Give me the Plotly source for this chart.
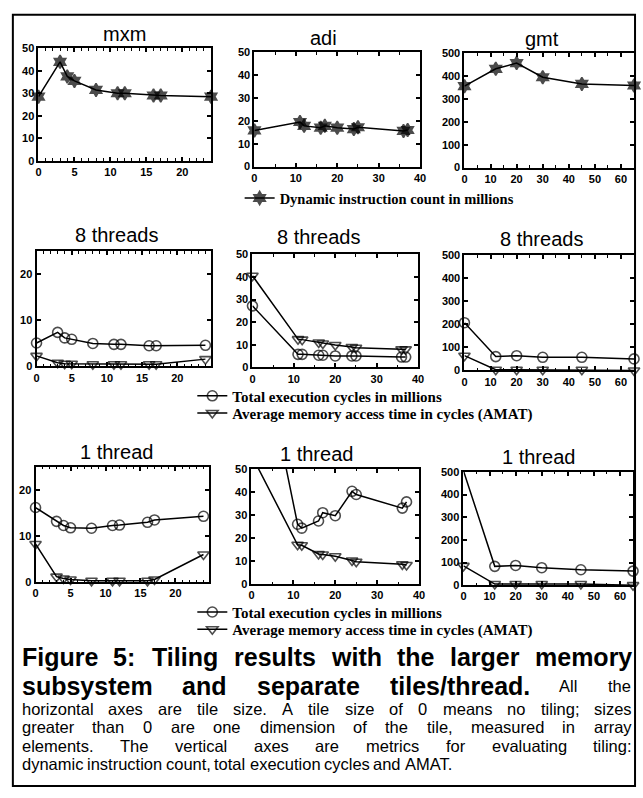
import plotly.graph_objects as go

# ---------------- data ----------------
mxm_tile = [0, 3, 4, 5, 8, 11, 12, 16, 17, 24]
adi_tile = [0, 11, 12, 16, 17, 20, 24, 25, 36, 37]
gmt_tile = [0, 12, 20, 30, 45, 65]

mxm_instr = [28.5, 44, 37.5, 35.5, 31.5, 30, 30, 29, 29, 28.5]
adi_instr = [15.8, 19.5, 17.8, 17.0, 17.8, 17.0, 16.4, 17.2, 15.6, 16.0]
gmt_instr = [356, 432, 457, 395, 366, 359]

mxm_cycles_8 = [5.1, 7.4, 6.2, 5.9, 5.0, 4.8, 4.8, 4.5, 4.5, 4.6]
mxm_amat_8 = [2.3, 0.8, 0.6, 0.6, 0.5, 0.5, 0.5, 0.5, 0.5, 1.6]
adi_cycles_8 = [27.2, 5.8, 5.8, 5.4, 5.4, 5.1, 5.1, 5.1, 4.6, 4.6]
adi_amat_8 = [40.5, 12.5, 12.3, 11.0, 10.6, 9.9, 9.0, 8.7, 8.0, 8.0]
gmt_cycles_8 = [207, 60, 64, 57, 57, 50]
gmt_amat_8 = [64, 3, 3, 3, 3, 0]

mxm_cycles_1 = [16.2, 13.2, 12.3, 11.8, 11.7, 12.3, 12.4, 13.0, 13.5, 14.3]
mxm_amat_1 = [8.3, 1.2, 0.8, 0.6, 0.3, 0.3, 0.3, 0.3, 0.6, 6.0]
adi_cycles_1 = [124, 26.0, 24.3, 27.4, 31.0, 29.7, 40.3, 38.9, 33.0, 35.7]
adi_amat_1 = [56, 17.1, 16.9, 13.1, 12.9, 12.1, 10.3, 9.7, 8.6, 8.3]
gmt_cycles_1 = [505, 83, 87, 77, 68, 62]
gmt_amat_1 = [85, 5, 5, 5, 5, 0]

panel_titles = ["mxm", "adi", "gmt",
                "8 threads", "8 threads", "8 threads",
                "1 thread", "1 thread", "1 thread"]

instr_label = "Dynamic instruction count in millions"
cycles_label = "Total execution cycles in millions"
amat_label = "Average memory access time in cycles (AMAT)"

caption_lines = [
    [("Figure", "B"), ("5:", "B"), ("Tiling", "B"), ("results", "B"), ("with", "B"),
     ("the", "B"), ("larger", "B"), ("memory", "B")],
    [("subsystem", "B"), ("and", "B"), ("separate", "B"), ("tiles/thread.", "B"),
     ("All", "R"), ("the", "R")],
    [(w, "R") for w in "horizontal axes are tile size. A tile size of 0 means no tiling; sizes".split()],
    [(w, "R") for w in "greater than 0 are one dimension of the tile, measured in array".split()],
    [(w, "R") for w in "elements. The vertical axes are metrics for evaluating tiling:".split()],
    [(w, "R") for w in "dynamic instruction count, total execution cycles and AMAT.".split()],
]

# ---------------- layout geometry (pixels) ----------------
W, H = 643, 798
# x0, x1, ytop, ybot, xrange, xdtick, xminor, yrange, ydtick, title cx, title cy
panels = [
    (36, 211, 43, 157, [0, 24], 5, 1, [0, 50], 10, 123, 28),
    (255, 423, 47, 163, [0, 40], 10, 5, [0, 50], 10, 325, 32),
    (468, 640, 48, 164, [0, 65], 10, 5, [0, 500], 100, 547, 33),
    (34, 211, 249, 366, [0, 24.8], 5, 1, [0, 25], 10, 115, 233),
    (253, 421, 252, 367, [0, 40], 10, 5, [0, 50], 10, 320, 235),
    (468, 640, 253, 370, [0, 65], 10, 5, [0, 500], 100, 546, 237),
    (33, 209, 468, 585, [0, 24.8], 5, 1, [0, 25], 10, 115, 453),
    (252, 422, 470, 587, [0, 40], 10, 5, [0, 50], 10, 318, 455),
    (467, 639, 473, 588, [0, 65], 10, 5, [0, 500], 100, 543, 458),
]


def px(x):
    return x / W


def py(y):
    return 1 - y / H


fig = go.Figure()
layout = dict(width=W, height=H, margin=dict(l=0, r=0, t=0, b=0),
              paper_bgcolor="white", plot_bgcolor="white", showlegend=True)

tickfont = dict(family="Liberation Sans", size=11, color="black", weight="bold")
annotations = []
for i, (x0, x1, yt, yb, xr, xd, xm, yr, yd, tcx, tcy) in enumerate(panels):
    n = i + 1
    xa = "xaxis" if n == 1 else f"xaxis{n}"
    ya = "yaxis" if n == 1 else f"yaxis{n}"
    layout[xa] = dict(domain=[px(x0), px(x1)], range=xr, dtick=xd, tick0=0,
                      anchor=f"y{n}" if n > 1 else "y",
                      showline=True, linewidth=2, linecolor="black", mirror="ticks",
                      ticks="inside", ticklen=4, tickwidth=1.5, tickcolor="black",
                      showgrid=False, zeroline=False, tickfont=tickfont,
                      minor=dict(dtick=xm, ticks="inside", ticklen=2.5, tickwidth=1,
                                 tickcolor="black", showgrid=False))
    layout[ya] = dict(domain=[py(yb), py(yt)], range=yr, dtick=yd, tick0=0,
                      anchor=f"x{n}" if n > 1 else "x",
                      showline=True, linewidth=2, linecolor="black", mirror="ticks",
                      ticks="inside", ticklen=4, tickwidth=1.5, tickcolor="black",
                      showgrid=False, zeroline=False, tickfont=tickfont)
    annotations.append(dict(x=px(tcx), y=py(tcy), xref="paper", yref="paper",
                            text=panel_titles[i], showarrow=False,
                            xanchor="center", yanchor="middle",
                            font=dict(family="Liberation Sans", size=20, color="black")))

series = [
    # panel, x, y, kind, legend
    (0, mxm_tile, mxm_instr, "instr", "legend"),
    (1, adi_tile, adi_instr, "instr", None),
    (2, gmt_tile, gmt_instr, "instr", None),
    (3, mxm_tile, mxm_cycles_8, "cyc", "legend2"),
    (3, mxm_tile, mxm_amat_8, "amat", "legend3"),
    (4, adi_tile, adi_cycles_8, "cyc", None),
    (4, adi_tile, adi_amat_8, "amat", None),
    (5, gmt_tile, gmt_cycles_8, "cyc", None),
    (5, gmt_tile, gmt_amat_8, "amat", None),
    (6, mxm_tile, mxm_cycles_1, "cyc", "legend4"),
    (6, mxm_tile, mxm_amat_1, "amat", "legend5"),
    (7, adi_tile, adi_cycles_1, "cyc", None),
    (7, adi_tile, adi_amat_1, "amat", None),
    (8, gmt_tile, gmt_cycles_1, "cyc", None),
    (8, gmt_tile, gmt_amat_1, "amat", None),
]
sym = {"instr": ("hexagram", 10, instr_label),
       "cyc": ("circle-open", 10, cycles_label),
       "amat": ("triangle-down-open", 10, amat_label)}

for p, xs, ys, kind, leg in series:
    n = p + 1
    ymax = panels[p][7][1]
    symbol, size, name = sym[kind]
    sizes = [0 if v > ymax else size for v in ys]
    fig.add_trace(go.Scatter(
        x=xs, y=ys, mode="lines+markers", name=name,
        xaxis="x" if n == 1 else f"x{n}", yaxis="y" if n == 1 else f"y{n}",
        line=dict(color="black", width=1.5),
        marker=dict(symbol=symbol, size=sizes, color="black",
                    line=dict(color="black", width=1.6)),
        cliponaxis=False,
        showlegend=leg is not None, legend=leg if leg else "legend"))

# x, y, font size
leg_pos = {"legend": (240, 195, 14.5), "legend2": (192, 396, 15), "legend3": (192, 413.5, 15),
           "legend4": (192, 615.5, 15), "legend5": (192, 633, 15)}
for k, (lx, ly, fs) in leg_pos.items():
    layout[k] = dict(x=px(lx), y=py(ly), xanchor="left", yanchor="middle",
                     xref="paper", yref="paper",
                     bgcolor="rgba(0,0,0,0)", borderwidth=0,
                     font=dict(family="Liberation Serif", size=fs, color="black",
                               weight="bold"),
                     itemwidth=30, tracegroupgap=0)

# ---------------- caption (justified words) ----------------
REG = dict(zip("abcdefghijklmnopqrstuvwxyz",
               [556, 556, 500, 556, 556, 278, 556, 556, 222, 222, 500, 222, 833,
                556, 556, 556, 556, 333, 500, 278, 556, 500, 722, 500, 500, 500]))
REG.update({"A": 667, "M": 833, "T": 611, "F": 611, ".": 278, ",": 278, ";": 278,
            ":": 278, "/": 278, " ": 278})
BLD = dict(zip("abcdefghijklmnopqrstuvwxyz",
               [556, 611, 556, 611, 556, 333, 611, 611, 278, 278, 556, 278, 889,
                611, 611, 611, 611, 389, 556, 333, 611, 556, 778, 556, 556, 500]))
BLD.update({"A": 722, "M": 833, "T": 611, "F": 611, ".": 278, ",": 278, ";": 333,
            ":": 333, "/": 278, " ": 278})
for d in "0123456789":
    REG[d] = 556
    BLD[d] = 556

styles = {
    "B": dict(font=dict(family="Liberation Sans", size=25, color="black", weight="bold"),
              table=BLD),
    "R": dict(font=dict(family="Liberation Sans", size=16.5, color="black"), table=REG),
}


def word_w(w, st):
    s = styles[st]
    return sum(s["table"].get(c, 556) for c in w) / 1000 * s["font"]["size"]


cap_x0, cap_x1 = 18, 636
cap_y = [661, 690, 714, 732.5, 751, 769.5]
for li, words in enumerate(caption_lines):
    widths = [word_w(w, st) for w, st in words]
    justify = li < len(caption_lines) - 1
    if justify:
        gap = (cap_x1 - cap_x0 - sum(widths)) / (len(words) - 1)
    else:
        gap = word_w(" ", "R")
    x = cap_x0
    for (w, st), ww in zip(words, widths):
        annotations.append(dict(x=px(x), y=py(cap_y[li]), xref="paper", yref="paper",
                                text=w, showarrow=False, xanchor="left", yanchor="middle",
                                borderpad=0, font=styles[st]["font"]))
        x += ww + gap

layout["annotations"] = annotations
layout["shapes"] = [dict(type="rect", xref="paper", yref="paper",
                         x0=px(10), x1=px(641), y0=py(792), y1=py(9),
                         line=dict(color="black", width=2))]
fig.update_layout(**layout)

fig.write_html("out.html", config={"displayModeBar": False},
               post_script="document.body.style.margin='0';")
